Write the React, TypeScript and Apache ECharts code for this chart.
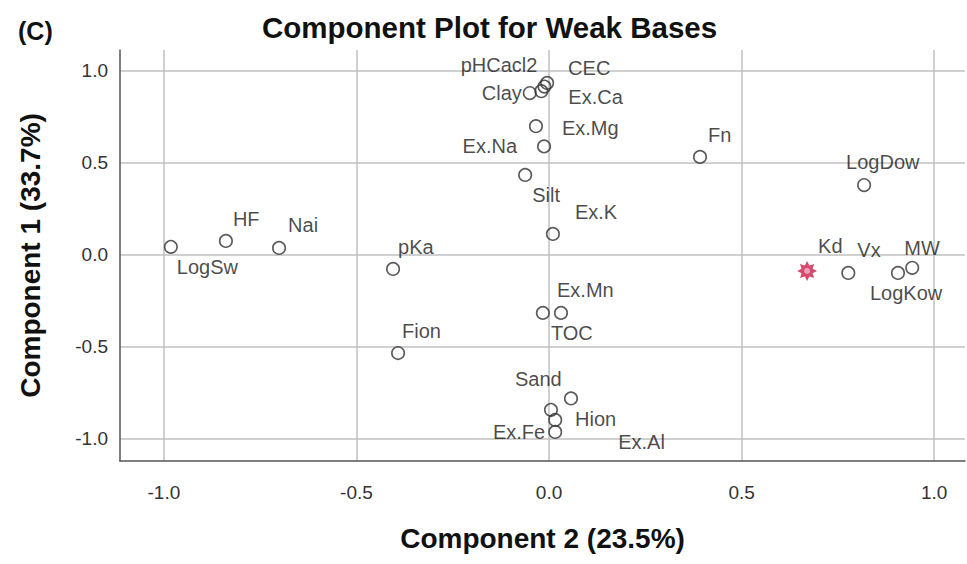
import React, { useEffect, useRef } from "react";
import * as echarts from "echarts";

// ---- data (component loadings) ----
const names = [
  "CEC", "pHCacl2", "Ex.Ca", "Clay", "Ex.Mg", "Ex.Na", "Silt", "Ex.K", "Fn", "LogDow",
  "Vx", "MW", "LogKow", "HF", "Nai", "LogSw", "pKa", "Fion", "Ex.Mn", "TOC",
  "Sand", "Hion", "Ex.Fe", "Ex.Al",
];
const comp2 = [
  -0.005, -0.012, -0.02, -0.05, -0.034, -0.013, -0.062, 0.01, 0.392, 0.818,
  0.777, 0.943, 0.906, -0.839, -0.701, -0.982, -0.405, -0.392, 0.031, -0.016,
  0.005, 0.057, 0.016, 0.016,
];
const comp1 = [
  0.935, 0.915, 0.89, 0.88, 0.7, 0.59, 0.435, 0.114, 0.533, 0.38,
  -0.098, -0.07, -0.098, 0.076, 0.038, 0.044, -0.076, -0.533, -0.315, -0.315,
  -0.842, -0.78, -0.897, -0.962,
];
// highlighted variable
const targetName = "Kd";
const targetComp2 = 0.67;
const targetComp1 = -0.087;

const tickLabels = ["-1.0", "-0.5", "0.0", "0.5", "1.0"];

// ---- label placement (style only) ----
const labelPlacement: Record<string, [string, number, number]> = {
  CEC: ["left", 21, -15],
  pHCacl2: ["right", -7, -22],
  "Ex.Ca": ["left", 27, 6],
  Clay: ["right", -8, 0],
  "Ex.Mg": ["left", 26, 2],
  "Ex.Na": ["right", -27, 0],
  Silt: ["left", 7, 20],
  "Ex.K": ["left", 22, -22],
  Fn: ["left", 8, -22],
  LogDow: ["left", -18, -23],
  Kd: ["left", 11, -25],
  Vx: ["left", 9, -23],
  MW: ["left", -8, -20],
  LogKow: ["left", -28, 20],
  HF: ["left", 7, -22],
  Nai: ["left", 9, -23],
  LogSw: ["left", 6, 20],
  pKa: ["left", 5, -22],
  Fion: ["left", 4, -22],
  "Ex.Mn": ["left", -4, -23],
  TOC: ["left", 8, 20],
  Sand: ["left", -36, -31],
  Hion: ["left", 4, 21],
  "Ex.Fe": ["right", -10, 12],
  "Ex.Al": ["left", 63, 10],
};

const FONT = "'Liberation Sans', Arial, Helvetica, sans-serif";

function starPath(points: number, inner: number): string {
  const parts: string[] = [];
  for (let i = 0; i < points * 2; i++) {
    const r = i % 2 === 0 ? 10 : 10 * inner;
    const a = (Math.PI * i) / points - Math.PI / 2;
    parts.push(`${i === 0 ? "M" : "L"}${(r * Math.cos(a)).toFixed(3)} ${(r * Math.sin(a)).toFixed(3)}`);
  }
  return "path://" + parts.join(" ") + " Z";
}

function makeLabel(name: string) {
  const p = labelPlacement[name] || ["left", 6, -20];
  return {
    show: true,
    position: "inside",
    align: p[0],
    verticalAlign: "middle",
    offset: [p[1], p[2]],
  };
}

export default function App() {
  const ref = useRef<HTMLDivElement>(null);
  useEffect(() => {
    if (!ref.current) return;
    const chart = echarts.init(ref.current, undefined, { renderer: "svg" });
    const pts = names.map((n, i) => ({
      name: n,
      value: [comp2[i], comp1[i]],
      label: makeLabel(n),
    }));
    const axisLabelFmt = (v: number) => {
      const s = v.toFixed(1);
      return tickLabels.includes(s) ? (s === "-0.0" ? "0.0" : s) : "";
    };
    chart.setOption({
      animation: false,
      backgroundColor: "#ffffff",
      title: {
        text: "Component Plot for Weak Bases",
        left: 262,
        top: 12,
        padding: 0,
        textStyle: { fontFamily: FONT, fontWeight: "bold", fontSize: 29.5, color: "#111" },
      },
      graphic: [
        {
          type: "text",
          left: 18,
          top: 18,
          style: { text: "(C)", fontFamily: FONT, fontWeight: "bold", fontSize: 25, fill: "#111" },
        },
      ],
      grid: { left: 120, right: 2, top: 50, bottom: 103, containLabel: false },
      xAxis: {
        type: "value",
        min: -1.114,
        max: 1.08,
        splitNumber: 5,
        minInterval: 0.5,
        maxInterval: 0.5,
        name: "Component 2 (23.5%)",
        nameLocation: "middle",
        nameGap: 63,
        nameTextStyle: { fontFamily: FONT, fontWeight: "bold", fontSize: 28, color: "#111" },
        axisLine: { show: true, onZero: false, lineStyle: { color: "#555", width: 1.5 } },
        axisTick: { show: false },
        axisLabel: {
          margin: 22,
          fontFamily: FONT,
          fontSize: 19,
          color: "#333",
          showMinLabel: false,
          showMaxLabel: false,
          formatter: axisLabelFmt,
        },
        splitLine: { show: true, showMinLine: false, showMaxLine: false, lineStyle: { color: "#c0c0c0", width: 1.5 } },
      },
      yAxis: {
        type: "value",
        min: -1.12,
        max: 1.114,
        splitNumber: 5,
        minInterval: 0.5,
        maxInterval: 0.5,
        name: "Component 1 (33.7%)",
        nameLocation: "middle",
        nameGap: 76,
        nameTextStyle: { fontFamily: FONT, fontWeight: "bold", fontSize: 28, color: "#111" },
        axisLine: { show: true, onZero: false, lineStyle: { color: "#555", width: 1.5 } },
        axisTick: { show: false },
        axisLabel: {
          margin: 12,
          fontFamily: FONT,
          fontSize: 19,
          color: "#333",
          showMinLabel: false,
          showMaxLabel: false,
          formatter: axisLabelFmt,
        },
        splitLine: { show: true, showMinLine: false, showMaxLine: false, lineStyle: { color: "#c0c0c0", width: 1.5 } },
      },
      series: [
        {
          type: "scatter",
          symbol: "circle",
          symbolSize: 12.5,
          itemStyle: { color: "rgba(255,255,255,0)", borderColor: "#333", borderWidth: 1.6 },
          label: { fontFamily: FONT, fontSize: 20, color: "#1a1a1a", formatter: "{b}" },
          emphasis: { disabled: true },
          data: pts,
          z: 3,
        },
        {
          type: "scatter",
          symbol: starPath(8, 0.6),
          symbolSize: 20,
          itemStyle: { color: "#cc1f4c" },
          label: { fontFamily: FONT, fontSize: 20, color: "#1a1a1a", formatter: "{b}" },
          emphasis: { disabled: true },
          data: [{ name: targetName, value: [targetComp2, targetComp1], label: makeLabel(targetName) }],
          z: 4,
        },
        {
          type: "scatter",
          symbol: "circle",
          symbolSize: 6,
          itemStyle: { color: "#f4b8c9" },
          emphasis: { disabled: true },
          data: [{ name: "", value: [targetComp2, targetComp1] }],
          z: 5,
        },
      ],
    });
    return () => chart.dispose();
  }, []);
  return <div ref={ref} style={{ position: "fixed", left: 0, top: 0, width: 967, height: 564 }} />;
}
